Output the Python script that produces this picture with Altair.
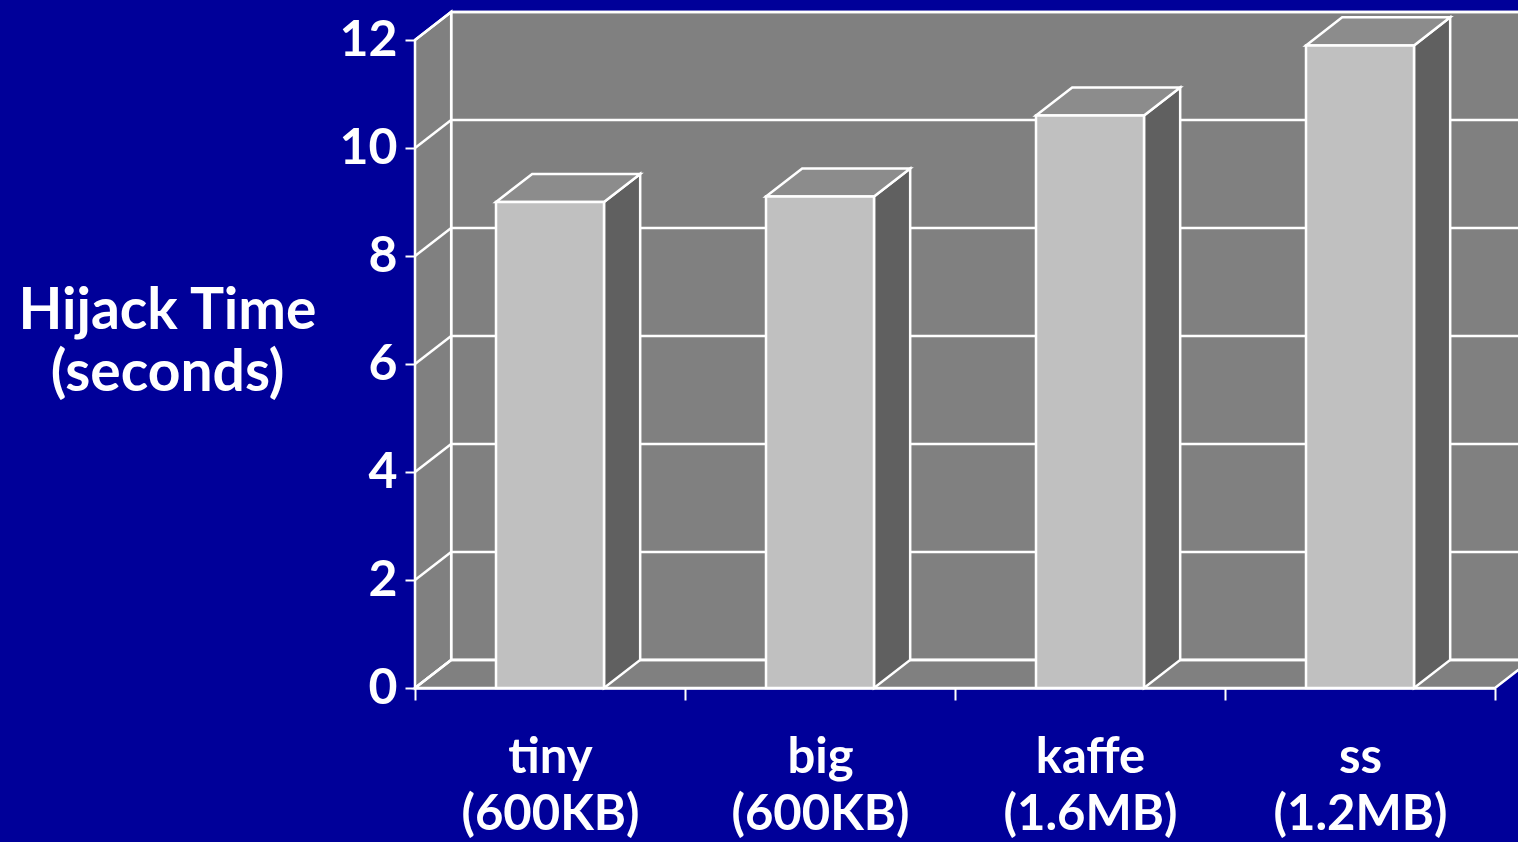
import json
import altair as alt
import pandas as pd

# ---- data ----
categories = ["tiny", "big", "kaffe", "ss"]
sizes = ["(600KB)", "(600KB)", "(1.6MB)", "(1.2MB)"]
hijack_seconds = [9.0, 9.1, 10.6, 11.9]
y_ticks = [0, 2, 4, 6, 8, 10, 12]
y_title = ["Hijack Time", "(seconds)"]

# ---- style constants ----
Y_MAX = 12
N = len(categories)
DX = 0.134   # 3-D depth along x (category units)
DY = 0.52    # 3-D depth along y (value units)
BAR_L, BAR_R = 0.3, 0.7
BG = "#000099"
WALL = "#808080"
TOP = "#8C8C8C"
SIDE = "#606060"
FRONT = "#C0C0C0"
LINE = "white"
LW = 2.5
FONT = "Lato"
W, H = 1080, 648

xscale = alt.Scale(domain=[0, N], nice=False, zero=False)
yscale = alt.Scale(domain=[0, Y_MAX], nice=False, zero=False)

label_pairs = [[c, s] for c, s in zip(categories, sizes)]
xaxis = alt.Axis(
    values=list(range(N + 1)),
    labelExpr=json.dumps(label_pairs) + "[datum.value] || ''",
    labelOffset=W / N / 2,
    labelFont=FONT, labelFontWeight="bold", labelFontSize=49, labelColor=LINE,
    labelLineHeight=57, labelBaseline="alphabetic", labelPadding=72,
    labelFlush=False, labelOverlap=False, labelAlign="center", labelLimit=600,
    tickSize=12, tickWidth=2, tickColor=LINE,
    domainColor=LINE, domainWidth=LW, grid=False, title=None,
)
yaxis = alt.Axis(
    values=y_ticks,
    labelFont=FONT, labelFontWeight="bold", labelFontSize=50, labelColor=LINE,
    labelPadding=8, labelFlush=False, labelLimit=600,
    tickSize=10, tickWidth=2, tickColor=LINE,
    domainColor=LINE, domainWidth=LW, grid=False,
    title=y_title, titleAngle=0, titleX=-248, titleY=271,
    titleAlign="center", titleBaseline="middle", titleLimit=800,
    titleFont=FONT, titleFontWeight="bold", titleFontSize=57, titleColor=LINE,
    titleLineHeight=62,
)


def X():
    return alt.X("x:Q", scale=xscale, axis=xaxis)


def Y():
    return alt.Y("y:Q", scale=yscale, axis=yaxis, stack=False)


# ---- walls / floor ----
left_wall = pd.DataFrame([
    {"x": 0, "y": Y_MAX, "y2": 0},
    {"x": DX, "y": Y_MAX + DY, "y2": DY},
])
back_wall = pd.DataFrame([{"x": DX, "x2": N + DX, "y": DY, "y2": Y_MAX + DY}])
floor = pd.DataFrame([
    {"x": 0, "y": 0, "y2": 0},
    {"x": DX, "y": DY, "y2": 0},
    {"x": N, "y": DY, "y2": 0},
    {"x": N + DX, "y": DY, "y2": DY},
])
grid_back = pd.DataFrame([{"x": DX, "x2": N + DX, "y": t + DY, "y2": t + DY} for t in y_ticks])
grid_side = pd.DataFrame([{"x": 0, "x2": DX, "y": t, "y2": t + DY} for t in y_ticks])

# ---- bars ----
front_rows, side_rows, top_rows = [], [], []
for i, (c, v) in enumerate(zip(categories, hijack_seconds)):
    front_rows.append({"cat": c, "x": i + BAR_L, "x2": i + BAR_R, "y": 0, "y2": v})
    side_rows += [
        {"cat": c, "x": i + BAR_R, "y": v, "y2": 0},
        {"cat": c, "x": i + BAR_R + DX, "y": v + DY, "y2": DY},
    ]
    top_rows += [
        {"cat": c, "x": i + BAR_L, "y": v, "y2": v},
        {"cat": c, "x": i + BAR_L + DX, "y": v + DY, "y2": v},
        {"cat": c, "x": i + BAR_R, "y": v + DY, "y2": v},
        {"cat": c, "x": i + BAR_R + DX, "y": v + DY, "y2": v + DY},
    ]
front = pd.DataFrame(front_rows)
side = pd.DataFrame(side_rows)
top = pd.DataFrame(top_rows)

layers = [
    alt.Chart(back_wall).mark_rect(fill=WALL, stroke=LINE, strokeWidth=LW).encode(
        x=X(), x2="x2:Q", y=Y(), y2="y2:Q"),
    alt.Chart(left_wall).mark_area(fill=WALL, stroke=LINE, strokeWidth=LW, orient="vertical").encode(
        x=X(), y=Y(), y2="y2:Q"),
    alt.Chart(floor).mark_area(fill=WALL, stroke=LINE, strokeWidth=LW, orient="vertical").encode(
        x=X(), y=Y(), y2="y2:Q"),
    alt.Chart(grid_back).mark_rule(color=LINE, strokeWidth=LW).encode(
        x=X(), x2="x2:Q", y=Y(), y2="y2:Q"),
    alt.Chart(grid_side).mark_rule(color=LINE, strokeWidth=LW).encode(
        x=X(), x2="x2:Q", y=Y(), y2="y2:Q"),
    alt.Chart(side).mark_area(fill=SIDE, stroke=LINE, strokeWidth=LW, orient="vertical").encode(
        x=X(), y=Y(), y2="y2:Q", detail="cat:N"),
    alt.Chart(top).mark_area(fill=TOP, stroke=LINE, strokeWidth=LW, orient="vertical").encode(
        x=X(), y=Y(), y2="y2:Q", detail="cat:N"),
    alt.Chart(front).mark_rect(fill=FRONT, stroke=LINE, strokeWidth=LW).encode(
        x=X(), x2="x2:Q", y=Y(), y2="y2:Q"),
]

chart = alt.layer(*layers).properties(
    width=W, height=H,
    background=BG,
    padding={"left": 415, "top": 40, "right": 23, "bottom": 154},
    autosize=alt.AutoSizeParams(type="none"),
).configure_view(strokeWidth=0)

chart.save("out.html", embed_options={"renderer": "svg", "actions": False})
